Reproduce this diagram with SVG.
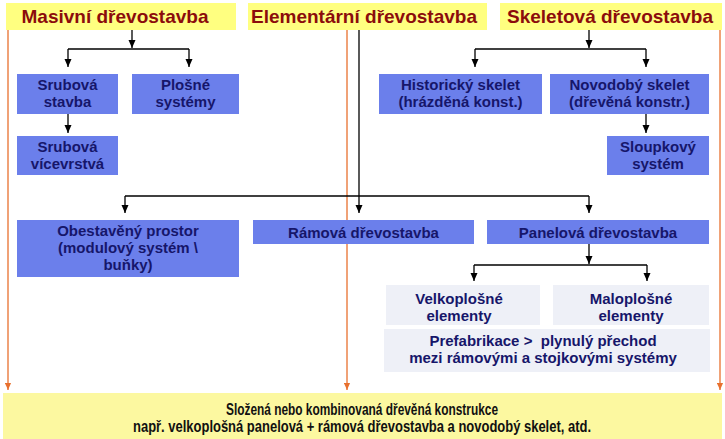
<svg xmlns="http://www.w3.org/2000/svg" width="725" height="439" viewBox="0 0 725 439">
<style>
.hdr{fill:#FFFF80}
.hdrt{font-family:"Liberation Sans",Arial,sans-serif;font-weight:bold;font-size:19px;fill:#8B0C0C;text-anchor:middle}
.box{fill:#6B7FEB}
.bt{font-family:"Liberation Sans",Arial,sans-serif;font-weight:bold;font-size:15px;fill:#16166A;text-anchor:middle}
.faint{fill:#EEF0F7}
.ln{stroke:#000;stroke-width:1.3;fill:none}
.ar{stroke:#000;stroke-width:1.3;fill:none;marker-end:url(#ah)}
.or{stroke:#E8702E;stroke-width:1.3;fill:none;marker-end:url(#oh)}
.bot{fill:#FCF8A0}
.bott{font-family:"Liberation Sans",Arial,sans-serif;font-weight:bold;font-size:16px;fill:#111;text-anchor:middle}
</style>
<defs>
<marker id="ah" viewBox="0 0 8 8" refX="8" refY="4" markerWidth="8" markerHeight="8" markerUnits="userSpaceOnUse" orient="auto"><path d="M0,0.5 L8,4 L0,7.5 Z" fill="#000"/></marker>
<marker id="oh" viewBox="0 0 8 8" refX="8" refY="4" markerWidth="7" markerHeight="7" markerUnits="userSpaceOnUse" orient="auto"><path d="M0,0.5 L8,4 L0,7.5 Z" fill="#E8702E"/></marker>
</defs>
<rect width="725" height="439" fill="#FFFFFF"/>

<g id="connectors">
<path class="or" d="M8,30 V390"/>
<path class="or" d="M347,30 V390"/>
<path class="or" d="M720,30 V390"/>
<path class="ar" d="M132,29 V48"/>
<path class="ln" d="M68,49 H189"/>
<path class="ar" d="M68,49 V67"/>
<path class="ar" d="M189,49 V67"/>
<path class="ar" d="M68,114 V133"/>
<path class="ar" d="M589,29 V48"/>
<path class="ln" d="M475,49 H646"/>
<path class="ar" d="M475,49 V67"/>
<path class="ar" d="M646,49 V67"/>
<path class="ar" d="M646,114 V133"/>
<path class="ar" d="M359,29 V213"/>
<path class="ln" d="M125,196 H589"/>
<path class="ar" d="M125,196 V213"/>
<path class="ar" d="M589,196 V213"/>
<path class="ar" d="M589,244 V264"/>
<path class="ln" d="M474,265 H647"/>
<path class="ar" d="M474,265 V281"/>
<path class="ar" d="M647,265 V281"/>
</g>

<g id="masivni"><rect class="hdr" x="6" y="3" width="230" height="27"/><text class="hdrt" x="115" y="23">Masivní dřevostavba</text></g>
<g id="elementarni"><rect class="hdr" x="248" y="3" width="239" height="27"/><text class="hdrt" x="364" y="23">Elementární dřevostavba</text></g>
<g id="skeletova"><rect class="hdr" x="500" y="3" width="222" height="27"/><text class="hdrt" x="610" y="23">Skeletová dřevostavba</text></g>

<g id="srubova"><rect class="box" x="17" y="74" width="101" height="40"/><text class="bt" x="67.5" y="90">Srubová</text><text class="bt" x="67.5" y="107">stavba</text></g>
<g id="plosne"><rect class="box" x="132" y="74" width="107" height="40"/><text class="bt" x="185.5" y="90">Plošné</text><text class="bt" x="185.5" y="107">systémy</text></g>
<g id="srubova-vicevrstva"><rect class="box" x="17" y="136" width="101" height="39"/><text class="bt" x="67.5" y="152">Srubová</text><text class="bt" x="67.5" y="169">vícevrstvá</text></g>

<g id="historicky"><rect class="box" x="379" y="74" width="163" height="40"/><text class="bt" x="460.5" y="90">Historický skelet</text><text class="bt" x="460.5" y="107">(hrázděná konst.)</text></g>
<g id="novodoby"><rect class="box" x="550" y="74" width="159" height="40"/><text class="bt" x="629.5" y="90">Novodobý skelet</text><text class="bt" x="629.5" y="107">(dřevěná konstr.)</text></g>
<g id="sloupkovy"><rect class="box" x="607" y="136" width="102" height="39"/><text class="bt" x="658" y="152">Sloupkový</text><text class="bt" x="658" y="169">systém</text></g>

<g id="obestaveny"><rect class="box" x="17" y="220" width="222" height="57"/><text class="bt" x="128" y="236">Obestavěný prostor</text><text class="bt" x="128" y="253">(modulový systém \</text><text class="bt" x="128" y="270">buňky)</text></g>
<g id="ramova"><rect class="box" x="253" y="220" width="221" height="24"/><text class="bt" x="363.5" y="237.5">Rámová dřevostavba</text></g>
<g id="panelova"><rect class="box" x="487" y="220" width="222" height="24"/><text class="bt" x="598" y="237.5">Panelová dřevostavba</text></g>

<g id="velkoplosne"><rect class="faint" x="386" y="285" width="154" height="40"/><text class="bt" x="459" y="304">Velkoplošné</text><text class="bt" x="459" y="321">elementy</text></g>
<g id="maloplosne"><rect class="faint" x="553" y="285" width="156" height="40"/><text class="bt" x="631" y="304">Maloplošné</text><text class="bt" x="631" y="321">elementy</text></g>
<g id="prefabrikace"><rect class="faint" x="384" y="329" width="326" height="43"/><text class="bt" x="543" y="346" xml:space="preserve">Prefabrikace &gt;  plynulý přechod</text><text class="bt" x="543" y="363">mezi rámovými a stojkovými systémy</text></g>

<g id="slozena"><rect class="bot" x="3" y="393" width="719" height="46"/><text class="bott" x="362" y="415" textLength="272" lengthAdjust="spacingAndGlyphs">Složená nebo kombinovaná dřevěná konstrukce</text><text class="bott" x="362" y="432" textLength="458" lengthAdjust="spacingAndGlyphs">např. velkoplošná panelová + rámová dřevostavba a novodobý skelet, atd.</text></g>
</svg>
